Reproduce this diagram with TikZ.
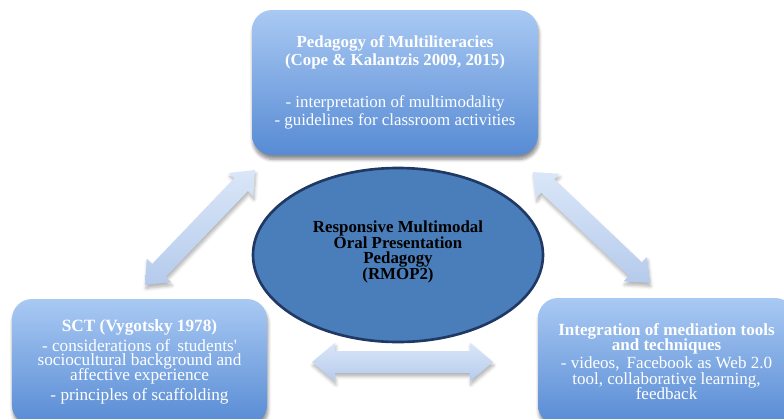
\documentclass[tikz,border=0pt]{standalone}
\usepackage{fontspec}
\setmainfont{Liberation Serif}
\definecolor{boxtop}{HTML}{A9C9F3}
\definecolor{boxbot}{HTML}{578BD4}
\definecolor{arrtop}{HTML}{DAE6F8}
\definecolor{arrbot}{HTML}{B5CBEC}
\definecolor{ovalfill}{HTML}{4A7EBB}
\definecolor{ovaldraw}{HTML}{1F3864}
\usetikzlibrary{shapes.geometric,shapes.arrows,shadows.blur}

\begin{document}
\begin{tikzpicture}[line width=1pt,
  infobox/.style={rounded corners=0.4cm, top color=boxtop, bottom color=boxbot,
    text=white, align=center, inner sep=0pt,
    blur shadow={shadow xshift=0.5pt, shadow yshift=-2.5pt, shadow blur steps=6, shadow opacity=45}},
  linkarrow/.style={double arrow, double arrow tip angle=80, top color=arrtop, bottom color=arrbot,
    inner xsep=0pt, minimum width=0pt, sloped, midway,
    blur shadow={shadow xshift=0.5pt, shadow yshift=-2pt, shadow blur steps=5, shadow opacity=30}}]
\useasboundingbox (0,0) rectangle (15.68,8.36) ;
\clip (0,0) rectangle (15.68,8.36) ;
% box Multiliteracies
\node[infobox, minimum width=5.72cm, minimum height=2.9cm, font=\fontsize{9.6}{10.2}\selectfont] (multilit) at (7.9,6.71)
  {\textbf{Pedagogy of Multiliteracies}\\ \textbf{(Cope \& Kalantzis 2009, 2015)}\\[0.48cm]
   - interpretation of multimodality\\ - guidelines for classroom activities} ;
%% box SCT
\node[infobox, minimum width=5.1cm, minimum height=2.52cm, font={\fontsize{9.8}{8.4}\selectfont\lineskiplimit=-6pt}] (sct) at (2.79,1.12)
  {\textbf{SCT (Vygotsky 1978)}\\[0.1cm] - considerations of\, students\textquotesingle\\ sociocultural background and\\
   affective experience\\[0.11cm] - principles of scaffolding} ;
%% box mediation tools
\node[infobox, minimum width=5.14cm, minimum height=2.54cm, font={\fontsize{9.7}{8.6}\selectfont\lineskiplimit=-6pt}] (tools) at (13.33,1.13)
  {\textbf{Integration of mediation tools}\\ \textbf{and techniques}\\[0.06cm]
   - videos,\, Facebook as Web 2.0\\ tool, collaborative learning,\\ feedback} ;
%% oval RMOP2
\node[ellipse, draw=ovaldraw, line width=1.5pt, fill=ovalfill, minimum width=5.8cm, minimum height=3.48cm,
  align=center, font={\bfseries\fontsize{9.6}{8.9}\selectfont\lineskiplimit=-6pt}] (rmop) at (7.96,3.26)
  {Responsive Multimodal\\ Oral Presentation\\ Pedagogy\\ (RMOP2)\\[-0.12cm]} ;
% arrow ends
\coordinate (sctend) at (2.9,2.66) ;
\coordinate (multilitleft) at (5.1,4.96) ;
\coordinate (multilitright) at (10.66,4.92) ;
\coordinate (toolsend) at (13.0,2.7) ;
\coordinate (sctright) at (6.24,1.12) ;
\coordinate (toolsleft) at (9.86,1.12) ;
\path (sctend) -- (multilitleft) node[linkarrow, minimum height=3.18cm, inner ysep=0.17cm, double arrow head extend=0.15cm] (leftlink) {} ;
\path (multilitright) -- (toolsend) node[linkarrow, minimum height=3.22cm, inner ysep=0.17cm, double arrow head extend=0.15cm] (rightlink) {} ;
\path (sctright) -- (toolsleft) node[linkarrow, minimum height=3.62cm, inner ysep=0.2cm, double arrow head extend=0.17cm] (bottomlink) {} ;
\end{tikzpicture}
\end{document}
